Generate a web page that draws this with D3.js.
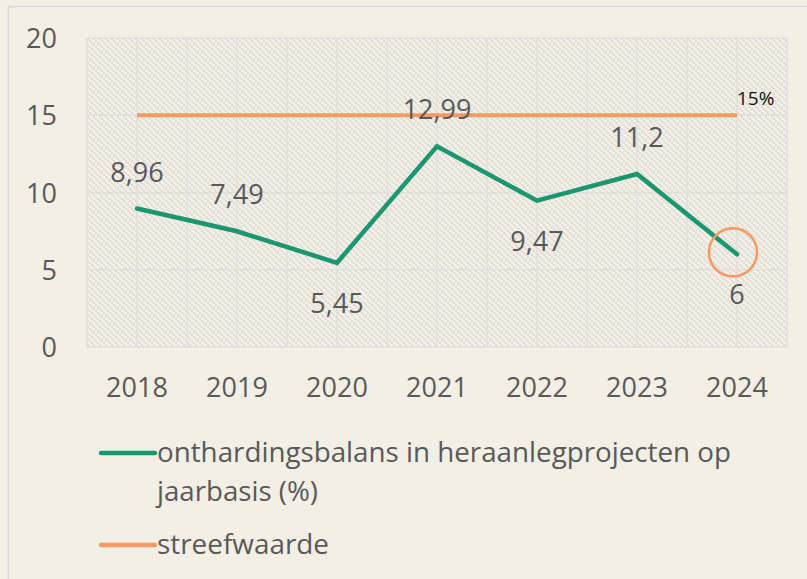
<!DOCTYPE html>
<html>
<head>
<meta charset="utf-8">
<script src="https://cdn.jsdelivr.net/npm/d3@7"></script>
<style>
  html, body { margin: 0; padding: 0; background: #f3efe4; }
  svg { display: block; font-family: "Open Sans", sans-serif; }
</style>
</head>
<body>
<script>
const years = ['2018', '2019', '2020', '2021', '2022', '2023', '2024']
const balans = [8.96, 7.49, 5.45, 12.99, 9.47, 11.2, 6]
const labels = ['8,96', '7,49', '5,45', '12,99', '9,47', '11,2', '6']
const labelBelow = [false, false, true, false, true, false, true]
const target = [15, 15, 15, 15, 15, 15, 15]
const yTicks = [0, 5, 10, 15, 20]
const legendNames = ['onthardingsbalans in heraanlegprojecten op|jaarbasis (%)', 'streefwaarde']

const fullWidth = 807
const fullHeight = 579
const margin = {top: 38, right: 20, bottom: 232, left: 87}
const width = fullWidth - margin.left - margin.right
const height = fullHeight - margin.top - margin.bottom
const green = '#1a9670'
const orange = '#f79a62'
const textColor = '#595959'

const svg = d3.select('body').append('svg')
  .attr('width', fullWidth)
  .attr('height', fullHeight)

// outer frame
svg.append('rect').attr('x', 0).attr('y', 0).attr('width', fullWidth).attr('height', fullHeight).attr('fill', '#f3efe4')
svg.append('path').attr('d', `M8.5,${fullHeight} V6.5 H${fullWidth}`).attr('fill', 'none').attr('stroke', '#d9d9d9').attr('stroke-width', 1.5)

// hatch pattern for the plot area
const pat = svg.append('defs').append('pattern')
  .attr('id', 'hatch').attr('width', 6).attr('height', 6).attr('patternUnits', 'userSpaceOnUse')
pat.append('rect').attr('width', 6).attr('height', 6).attr('fill', '#f3efe4')
;[0, 2, 4].forEach(function(k) {
  pat.append('rect').attr('x', k).attr('y', k).attr('width', 2).attr('height', 2).attr('fill', '#dcdbda')
})

const g = svg.append('g').attr('transform', 'translate(' + margin.left + ',' + margin.top + ')')

const x = d3.scaleBand().domain(years).range([0, width])
const y = d3.scaleLinear().domain([0, 20]).range([height, 0])
const cx = function(d) { return x(d) + x.bandwidth() / 2 }

g.append('rect').attr('width', width).attr('height', height).attr('fill', 'url(#hatch)')

// gridlines: band edges and band centres vertically
const vLines = []
years.forEach(function(d) { vLines.push(x(d)); vLines.push(cx(d)) })
vLines.push(width)
g.append('g').selectAll('line').data(vLines).join('line')
  .attr('x1', d => d).attr('x2', d => d).attr('y1', 0).attr('y2', height)
  .attr('stroke', '#e2dfda').attr('stroke-width', 1.5)
g.append('g').selectAll('line').data(yTicks).join('line')
  .attr('x1', 0).attr('x2', width).attr('y1', d => y(d)).attr('y2', d => y(d))
  .attr('stroke', '#e2dfda').attr('stroke-width', 1.5)

// y axis labels
g.append('g').selectAll('text').data(yTicks).join('text')
  .attr('x', -30).attr('y', d => y(d) + 10)
  .attr('text-anchor', 'end').attr('font-size', 27).attr('fill', textColor)
  .text(d => d)

// x axis labels
g.append('g').selectAll('text').data(years).join('text')
  .attr('x', d => cx(d)).attr('y', height + 50)
  .attr('text-anchor', 'middle').attr('font-size', 27).attr('fill', textColor)
  .text(d => d)

// target line
const line = d3.line().x((d, i) => cx(years[i])).y(d => y(d))
g.append('path').datum(target).attr('d', line)
  .attr('fill', 'none').attr('stroke', orange).attr('stroke-width', 4)
g.append('text').attr('x', cx(years[6])).attr('y', y(target[6]) - 10)
  .attr('font-size', 19).attr('fill', '#111').text('15%')

// main series
g.append('path').datum(balans).attr('d', line)
  .attr('fill', 'none').attr('stroke', green).attr('stroke-width', 4.5)
  .attr('stroke-linejoin', 'miter').attr('stroke-linecap', 'round')

g.append('g').selectAll('text').data(balans).join('text')
  .attr('x', (d, i) => cx(years[i]))
  .attr('y', (d, i) => y(d) + (labelBelow[i] ? 50 : -27))
  .attr('text-anchor', 'middle').attr('font-size', 27).attr('fill', textColor)
  .text((d, i) => labels[i])

// highlight circle on the last point
g.append('circle').attr('cx', cx(years[6]) - 4).attr('cy', y(balans[6]) - 2).attr('r', 24)
  .attr('fill', 'none').attr('stroke', orange).attr('stroke-width', 2.5)

// legend
const legend = svg.append('g')
const legendY = [453, 545]
const legendColors = [green, orange]
const legendWidths = [[574, 161], [172]]
legendNames.forEach(function(name, i) {
  legend.append('line').attr('x1', 101).attr('x2', 155).attr('y1', legendY[i]).attr('y2', legendY[i])
    .attr('stroke', legendColors[i]).attr('stroke-width', 4.5).attr('stroke-linecap', 'round')
  name.split('|').forEach(function(part, j) {
    legend.append('text').attr('x', 157).attr('y', legendY[i] + 9 + j * 39)
      .attr('font-size', 27).attr('fill', textColor)
      .attr('textLength', legendWidths[i][j]).attr('lengthAdjust', 'spacingAndGlyphs')
      .text(part)
  })
})
</script>
</body>
</html>
